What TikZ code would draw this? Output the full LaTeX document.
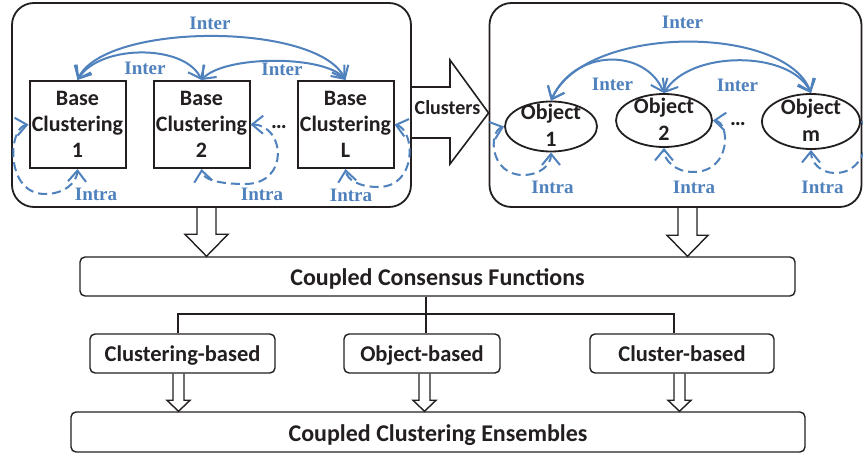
\documentclass[tikz,border=0pt]{standalone}
\usepackage{fontspec}
\setmainfont{Carlito}
\newfontfamily\labfont{Liberation Serif}
\usetikzlibrary{shapes.geometric,arrows.meta,calc}
\definecolor{ablue}{RGB}{79,129,189}
\definecolor{ink}{RGB}{35,31,32}
\newcommand\hollowdn[6]{%
 \draw[hollow] let \p1=(#2), \p2=(#3) in
   (#1pt-#4pt,\y1) -- (#1pt-#4pt,\y2+#6pt) -- (#1pt-#5pt,\y2+#6pt) -- (#1pt,\y2)
   -- (#1pt+#5pt,\y2+#6pt) -- (#1pt+#4pt,\y2+#6pt) -- (#1pt+#4pt,\y1);}
\begin{document}
\begin{tikzpicture}[x=1pt,y=-1pt,
  bigbox/.style={draw=ink,line width=1.8pt,rounded corners=22pt,inner sep=0pt},
  basebox/.style={draw=ink,line width=2pt,minimum width=96pt,minimum height=87pt,inner sep=0pt,
     align=center,text=ink,font=\bfseries\fontsize{22}{26}\selectfont},
  objbox/.style={ellipse,draw=ink,line width=1.8pt,inner sep=0pt},
  objtext/.style={align=center,text=ink,inner sep=0pt,font=\bfseries\fontsize{22}{27}\selectfont},
  fbox/.style={draw=ink,line width=1.4pt,rounded corners=5pt,inner sep=0pt,text=ink,text depth=0pt},
  hollow/.style={draw=ink,line width=1.4pt,line join=miter},
  conn/.style={draw=ink,line width=1.4pt},
  tipb/.tip={Straight Barb[length=11pt,width=18pt,line width=2pt]},
  inter/.style={draw=ablue,line width=2pt,tipb-tipb},
  intra/.style={inter,dash pattern=on 9pt off 5pt},
  lab/.style={text=ablue,inner sep=0pt,anchor=base,font=\labfont\bfseries\fontsize{19}{19}\selectfont},
  dots/.style={text=ink,inner sep=0pt,anchor=base,font=\bfseries\fontsize{22}{22}\selectfont}]
\fill[white] (0,0) rectangle (863,454);
\useasboundingbox (0,0) rectangle (863,454);

% big containers
\node[bigbox,minimum width=399pt,minimum height=204pt] (LB) at (211.5,105) {};
\node[bigbox,minimum width=372pt,minimum height=204pt] (RB) at (675.5,105) {};

% Clusters block arrow
\draw[hollow,line width=1.6pt] (LB.east |- 0,87) -- (450,87) -- (450,60) -- (RB.west |- 0,113)
   -- (450,164) -- (450,138) -- (LB.east |- 0,138);
\node[text=ink,inner sep=0pt,anchor=base,font=\bfseries\fontsize{20}{20}\selectfont] (cl) at (447.5,115) {Clusters};

% base clusterings
\node[basebox] (b1) at (77.5,124.5) {Base\\Clustering\\1};
\node[basebox] (b2) at (201.5,124.5) {Base\\Clustering\\2};
\node[basebox] (bL) at (345.5,124.5) {Base\\Clustering\\L};
\node[dots] (d1) at (279,129) {\ldots};

% objects
\node[objbox,minimum width=92pt,minimum height=50pt] (o1) at (551,126.5) {};
\node[objbox,minimum width=96pt,minimum height=53pt] (o2) at (664,120.5) {};
\node[objbox,minimum width=98pt,minimum height=55pt] (om) at (811,121.5) {};
\node[objtext] (t1) at (551,125) {Object\\1};
\node[objtext] (t2) at (664,119) {Object\\2};
\node[objtext] (tm) at (811,120) {Object\\m};
\node[dots] (d2) at (738,126) {\ldots};

% inter arcs left
\draw[inter] (b1.north) .. controls (105,22) and (318,22) .. (bL.north);
\draw[inter] (b1.north) .. controls (100,44) and (185,44) .. (b2.north);
\draw[inter] (b2.north) .. controls (225,55) and (325,55) .. (bL.north);
\node[lab] (i1) at (210,30) {Inter};
\node[lab] (i2) at (145,75) {Inter};
\node[lab] (i3) at (282,76) {Inter};

% intra loops left
\draw[intra] (b1.west) .. controls (8,128) and (5,194) .. (45,194) .. controls (65,194) and (77,182) .. (b1.south);
\draw[intra] (b2.east) .. controls (285,125) and (290,184) .. (245,184) .. controls (220,184) and (203,180) .. (b2.south);
\draw[intra] (bL.east) .. controls (415,130) and (418,187) .. (378,187) .. controls (360,187) and (347,180) .. (bL.south);
\node[lab] (a1) at (96,201) {Intra};
\node[lab] (a2) at (262,201) {Intra};
\node[lab] (a3) at (351,202) {Intra};

% inter arcs right
\draw[inter] (o1.north) .. controls (585,24) and (785,24) .. (om.north);
\draw[inter] (o1.north) .. controls (575,48) and (645,48) .. (o2.north);
\draw[inter] (o2.north) .. controls (690,50) and (790,50) .. (om.north);
\node[lab] (i4) at (682.5,29) {Inter};
\node[lab] (i5) at (612.5,91) {Inter};
\node[lab] (i6) at (737.5,92) {Inter};

% intra loops right
\draw[intra] (o1.west) .. controls (488,132) and (490,175) .. (523,175) .. controls (540,175) and (551,165) .. (o1.south);
\draw[intra] (o2.east) .. controls (730,122) and (732,172) .. (693,172) .. controls (675,172) and (664,160) .. (o2.south);
\draw[intra] (om.east) .. controls (870,125) and (870,173) .. (835,173) .. controls (820,173) and (811,162) .. (om.south);
\node[lab] (a4) at (552.5,194) {Intra};
\node[lab] (a5) at (694,194) {Intra};
\node[lab] (a6) at (822.5,194) {Intra};

% bottom part
\node[fbox,minimum width=715pt,minimum height=39pt,text height=18.4pt,font=\bfseries\fontsize{24}{24}\selectfont] (cons) at (437.5,276.5) {Coupled Consensus Functions};
\node[fbox,minimum width=185pt,minimum height=39pt,text height=16.4pt,font=\bfseries\fontsize{22.5}{22.5}\selectfont] (clb) at (182.5,353.5) {Clustering-based};
\node[fbox,minimum width=156pt,minimum height=39pt,text height=16.4pt,font=\bfseries\fontsize{22.5}{22.5}\selectfont] (objb) at (422,353.5) {Object-based};
\node[fbox,minimum width=184pt,minimum height=39pt,text height=16.4pt,font=\bfseries\fontsize{22.5}{22.5}\selectfont] (csb) at (682,353.5) {Cluster-based};
\node[fbox,minimum width=734pt,minimum height=40pt,text height=19.4pt,font=\bfseries\fontsize{24}{24}\selectfont] (ens) at (438,432) {Coupled Clustering Ensembles};

\hollowdn{206.5}{LB.south}{cons.north}{9.5}{21.5}{22}
\hollowdn{687.5}{RB.south}{cons.north}{9.5}{20.5}{21}
\hollowdn{178.5}{clb.south}{ens.north}{5.5}{11.5}{11}
\hollowdn{424.5}{objb.south}{ens.north}{5.5}{11.5}{11}
\hollowdn{679.5}{csb.south}{ens.north}{5.5}{11.5}{11}

\coordinate (j) at (426,314);
\draw[conn] ([xshift=-11.5pt]cons.south) -- ([xshift=4pt]objb.north);
\draw[conn] ([xshift=-4.5pt]clb.north) |- (j) -| ([xshift=-8pt]csb.north);
\end{tikzpicture}
\end{document}
